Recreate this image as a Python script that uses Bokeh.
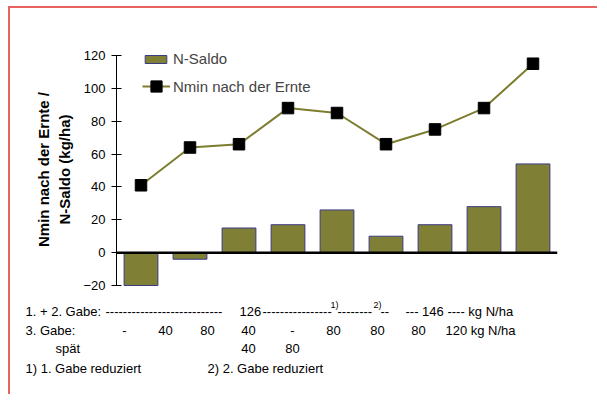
from bokeh.plotting import figure
from bokeh.layouts import column
from bokeh.models import (Range1d, ColumnDataSource, Span, Legend, LegendItem,
                          FixedTicker, Label, InlineStyleSheet)
from bokeh.embed import file_html
from bokeh.resources import INLINE

# ---- data ----
treatments = [0, 1, 2, 3, 4, 5, 6, 7, 8]
n_saldo = [-20, -4, 15, 17, 26, 10, 17, 28, 54]
nmin_ernte = [41, 64, 66, 88, 85, 66, 75, 88, 115]
y_ticks = [-20, 0, 20, 40, 60, 80, 100, 120]
gabe3 = ["-", "40", "80", "40", "-", "80", "80", "80", "120 kg N/ha"]
gabe3_spaet = ["", "", "", "40", "80", "", "", "", ""]
series_names = ["N-Saldo", "Nmin nach der Ernte"]
y_title = "Nmin nach der Ernte /\nN-Saldo (kg/ha)"
row1_parts = ["1. + 2. Gabe:", "-" * 27, "126", "-" * 16, "1)", "-" * 8, "2)", "--",
              "--- 146 ---- kg N/ha"]
row2_title = "3. Gabe:"
row3_title = "spät"
footnotes = ["1) 1. Gabe reduziert", "2) 2. Gabe reduziert"]

# ---- layout constants (page pixels) ----
FONT = "Liberation Sans"
OX, OY = 10, 8                 # content origin of the figures on the page
W = 589
FRAME_L, FRAME_R = 116, 557    # plot frame left/right (page px)
Y120, YM20 = 55, 285           # page y of 120 and -20
PXU = (YM20 - Y120) / 140.0    # px per unit
TOP1, BOT1 = 44, 294           # frame top/bottom of the chart figure
H1 = BOT1 - OY
H2 = 396 - BOT1

OLIVE = "#7f7f35"
EDGE = "#3b3b85"
BORDER = "#e86262"

p = figure(width=W, height=H1, output_backend="svg", toolbar_location=None,
           x_range=Range1d(-0.5, 8.5),
           y_range=Range1d(-20 - (BOT1 - YM20) / PXU, 120 + (Y120 - TOP1) / PXU),
           x_axis_location=None,
           min_border_left=FRAME_L - OX, min_border_right=W - (FRAME_R - OX),
           min_border_top=TOP1 - OY, min_border_bottom=0)
p.frame_align = False
p.stylesheets = [InlineStyleSheet(css=":host { border-top: 2px solid %s; border-left: 2px solid %s; }" % (BORDER, BORDER))]
p.outline_line_color = None
p.grid.visible = False
p.background_fill_color = "white"

src = ColumnDataSource(dict(x=treatments, saldo=n_saldo, nmin=nmin_ernte))
bars = p.vbar(x="x", top="saldo", bottom=0, width=0.69, source=src,
              fill_color=OLIVE, line_color=EDGE, line_width=1)
p.add_layout(Span(location=0, dimension="width", line_color="black", line_width=2.5))
ln = p.line(x="x", y="nmin", source=src, line_color="#7d7d30", line_width=2)
mk = p.scatter(x="x", y="nmin", source=src, marker="square", size=11.5,
               fill_color="black", line_color="black")

ax = p.yaxis[0]
ax.ticker = FixedTicker(ticks=y_ticks)
ax.bounds = (-20, 120)
ax.minor_tick_line_color = None
ax.major_tick_in = 5
ax.major_tick_out = 5
ax.major_label_standoff = 6
ax.major_label_text_font = FONT
ax.major_label_text_font_size = "13px"
ax.major_label_text_color = "black"
ax.axis_line_color = "black"
ax.major_tick_line_color = "black"
ax.axis_label = y_title
ax.axis_label_text_font = FONT
ax.axis_label_text_font_size = "15px"
ax.axis_label_text_font_style = "bold"
ax.axis_label_text_color = "black"
ax.axis_label_text_line_height = 1.27
ax.axis_label_standoff = 7

leg1 = Legend(items=[LegendItem(label=series_names[0], renderers=[bars])],
              location=(142 - FRAME_L, BOT1 - 67), glyph_width=27, glyph_height=10,
              label_height=10, label_standoff=4, padding=0, margin=0,
              border_line_color=None, background_fill_alpha=0,
              label_text_font=FONT, label_text_font_size="15px")
leg2 = Legend(items=[LegendItem(label=series_names[1], renderers=[ln, mk])],
              location=(142 - FRAME_L, BOT1 - 100), glyph_width=28, glyph_height=28,
              label_height=28, label_standoff=3, padding=0, margin=0,
              border_line_color=None, background_fill_alpha=0,
              label_text_font=FONT, label_text_font_size="15px")
p.add_layout(leg1)
p.add_layout(leg2)

# ---- text block below the chart ----
q = figure(width=W, height=H2, output_backend="svg", toolbar_location=None,
           x_range=Range1d(0, W), y_range=Range1d(H2, 0),
           x_axis_location=None, y_axis_location=None,
           min_border_left=0, min_border_right=0, min_border_top=0, min_border_bottom=0)
q.frame_align = False
q.stylesheets = [InlineStyleSheet(css=":host { border-left: 2px solid %s; }" % BORDER)]
q.outline_line_color = None
q.grid.visible = False


def lab(text, px, py, align="left", size="13px"):
    q.add_layout(Label(x=px - OX, y=py - BOT1, text=text,
                       text_font=FONT, text_font_size=size, text_align=align,
                       text_baseline="middle", text_color="black"))


row1_x = [25, 105, 239, 262, 330, 337, 373, 380, 405]
for t, px in zip(row1_parts, row1_x):
    if t in ("1)", "2)"):
        lab(t, px, 306, size="9px")
    else:
        lab(t, px, 313)
lab(row2_title, 25, 332)
row_val_x = [124, 165, 207, 248, 292, 333, 377, 418, 480]
for t, px in zip(gabe3, row_val_x):
    lab(t, px, 332, align="center")
lab(row3_title, 55, 350)
for t, px in zip(gabe3_spaet, row_val_x):
    if t:
        lab(t, px, 350, align="center")
lab(footnotes[0], 25, 370)
lab(footnotes[1], 207, 370)

layout = column(p, q, margin=(6, 0, 0, 8), spacing=0)
open("out.html", "w").write(file_html(layout, INLINE))
